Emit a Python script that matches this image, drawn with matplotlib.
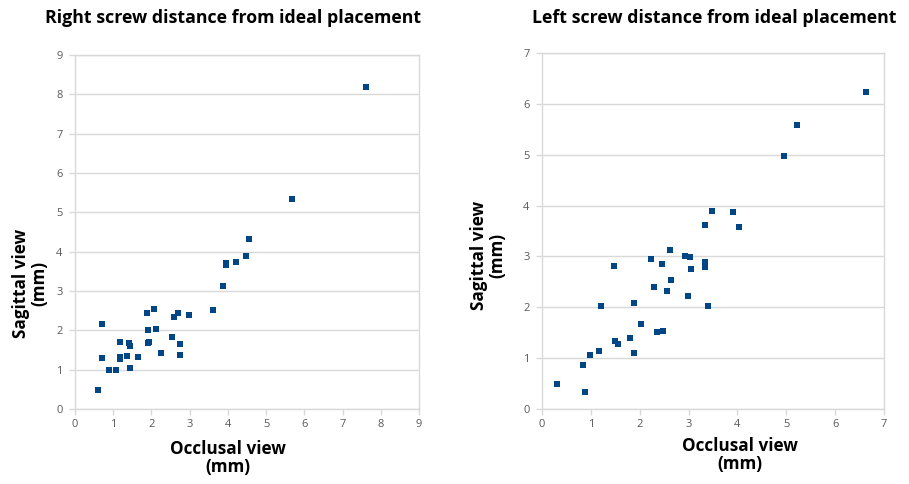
import matplotlib
matplotlib.use("Agg")
import matplotlib.pyplot as plt

# Right screw (left panel)
right_occlusal = [7.62, 5.68, 4.56, 4.48, 4.22, 3.94, 3.94, 3.88, 3.62, 2.97, 2.69, 2.59,
                  2.06, 1.89, 1.91, 2.13, 2.53, 2.74, 2.74, 2.25, 1.91, 1.94, 1.66, 1.42,
                  1.45, 1.37, 1.44, 1.18, 1.19, 1.18, 1.07, 0.90, 0.71, 0.71, 0.61]
right_sagittal = [8.19, 5.34, 4.31, 3.89, 3.75, 3.72, 3.67, 3.13, 2.51, 2.40, 2.44, 2.33,
                  2.54, 2.43, 2.00, 2.03, 1.83, 1.64, 1.37, 1.42, 1.68, 1.71, 1.32, 1.69,
                  1.61, 1.34, 1.05, 1.71, 1.31, 1.27, 0.99, 0.98, 2.15, 1.29, 0.48]

# Left screw (right panel)
left_occlusal = [6.64, 5.22, 4.95, 3.47, 3.90, 3.34, 4.04, 2.61, 2.93, 3.02, 2.23, 2.46,
                 1.47, 3.34, 3.34, 3.04, 2.65, 2.29, 2.55, 2.99, 1.88, 1.21, 3.39, 2.03,
                 2.35, 2.47, 1.81, 1.49, 1.56, 1.88, 1.17, 0.99, 0.84, 0.31, 0.88]
left_sagittal = [6.23, 5.58, 4.98, 3.90, 3.87, 3.61, 3.57, 3.13, 3.01, 2.98, 2.94, 2.86,
                 2.82, 2.89, 2.79, 2.75, 2.53, 2.40, 2.33, 2.23, 2.08, 2.03, 2.02, 1.68,
                 1.51, 1.53, 1.40, 1.34, 1.28, 1.10, 1.15, 1.07, 0.86, 0.50, 0.33]

titles = ["Right screw distance from ideal placement", "Left screw distance from ideal placement"]
xlabel = "Occlusal view\n(mm)"
ylabel = "Sagittal view\n(mm)"

W, H = 909, 484
fig = plt.figure(figsize=(W / 100, H / 100), dpi=100)
plt.rcParams['font.family'] = ['Open Sans', 'DejaVu Sans']

marker_color = "#004586"
grid_color = "#d9d9d9"
tick_color = "#595959"

def make_ax(box, xs, ys, xmax, ymax, title, title_xy, xl_xy, yl_xy):
    l, r, t, b = box
    ax = fig.add_axes([l / W, 1 - b / H, (r - l) / W, (b - t) / H])
    ax.scatter(xs, ys, marker="s", s=22, color=marker_color, linewidths=0, zorder=3)
    ax.set_xlim(0, xmax)
    ax.set_ylim(0, ymax)
    ax.set_xticks(range(0, xmax + 1))
    ax.set_yticks(range(0, ymax + 1))
    ax.yaxis.grid(True, color=grid_color, linewidth=1)
    ax.set_axisbelow(True)
    for s in ax.spines.values():
        s.set_color(grid_color)
        s.set_linewidth(1)
    ax.tick_params(axis="both", colors=grid_color, labelcolor=tick_color,
                   labelsize=8, length=4, width=1, direction="out")
    ax.tick_params(axis="x", pad=3)
    ax.tick_params(axis="y", pad=5)
    fig.text(title_xy[0] / W, 1 - title_xy[1] / H, title, ha="center", va="center",
             fontsize=12.8, fontweight="bold")
    fig.text(xl_xy[0] / W, 1 - xl_xy[1] / H, xlabel, ha="center", va="center",
             fontsize=12.3, fontweight="bold", linespacing=1.0)
    fig.text(yl_xy[0] / W, 1 - yl_xy[1] / H, ylabel, ha="center", va="center",
             fontsize=12.3, fontweight="bold", rotation=90, linespacing=1.0)
    return ax

make_ax((75, 419, 55, 409), right_occlusal, right_sagittal, 9, 9, titles[0],
        (233, 18), (228, 458), (30, 283))
make_ax((542, 884, 53, 409), left_occlusal, left_sagittal, 7, 7, titles[1],
        (714, 18), (740, 455), (488, 255))

fig.savefig("out.png", dpi=100)
